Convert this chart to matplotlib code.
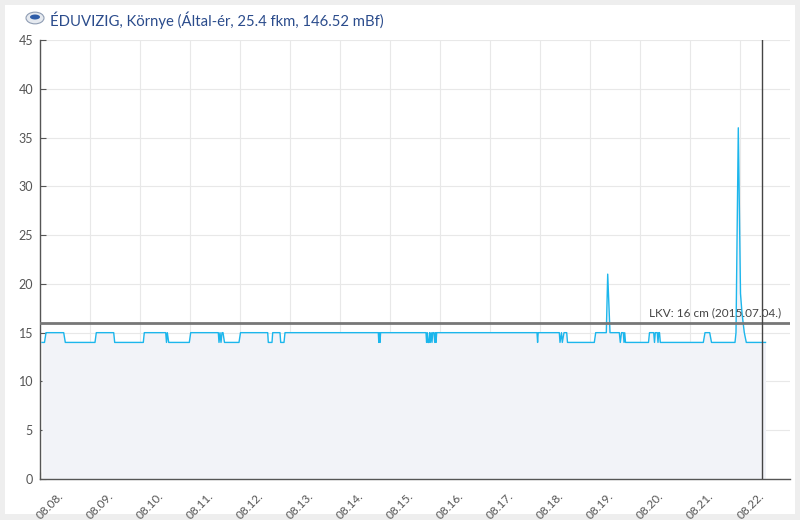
"""ÉDUVIZIG Környe vízállás grafikon — 08.08.–08.22. vízszint (cm) LKV jelöléssel."""
import matplotlib
matplotlib.use("Agg")
import matplotlib.pyplot as plt
import matplotlib.transforms as mtrans
from matplotlib.patches import Circle, Rectangle, Ellipse

plt.rcParams["font.family"] = ["Lato", "DejaVu Sans"]

# idő: nap 08.08. 00:00 óta, vízállás cm
DAYS = [0.04, 0.09, 0.12, 0.474, 0.506, 1.10, 1.126, 1.474, 1.494, 2.066, 2.086,
        2.514, 2.53, 2.546, 2.574, 2.986, 3.014, 3.566, 3.58, 3.60, 3.62, 3.64,
        3.66, 3.69, 3.98, 4.01, 4.554, 4.566, 4.64, 4.654, 4.80, 4.814, 4.88,
        4.90, 6.766, 6.776, 6.788, 6.80, 6.812, 7.72, 7.732, 7.746, 7.76, 7.78,
        7.792, 7.806, 7.824, 7.84, 7.854, 7.88, 7.894, 7.91, 7.92, 7.934, 9.94,
        9.952, 9.964, 10.386, 10.40, 10.43, 10.446, 10.48, 10.534, 10.55, 11.086,
        11.114, 11.326, 11.354, 11.40, 11.586, 11.606, 11.63, 11.666, 11.68,
        11.694, 11.71, 12.17, 12.19, 12.274, 12.29, 12.306, 12.346, 12.36,
        12.374, 12.39, 12.406, 13.266, 13.30, 13.394, 13.43, 13.90, 13.92,
        13.966, 14.01, 14.04, 14.086, 14.126, 14.51]
LEVEL = [14, 14, 15, 15, 14, 14, 15, 15, 14, 14, 15,
         15, 14, 15, 14, 14, 15, 15, 14, 15, 14, 15,
         15, 14, 14, 15, 15, 14, 14, 15, 15, 14, 14,
         15, 15, 14, 15, 14, 15, 15, 14, 15, 14, 14,
         15, 14, 15, 14, 15, 15, 14, 15, 14, 15, 15,
         14, 15, 15, 14, 15, 14, 15, 15, 14, 14,
         15, 15, 21, 15, 15, 14, 15, 15, 14,
         15, 14, 14, 15, 15, 14, 15, 15, 14,
         15, 15, 14, 14, 15, 15, 14, 14, 15,
         36, 19, 17, 15, 14, 14]

DAY_LABELS = ["08.08.", "08.09.", "08.10.", "08.11.", "08.12.", "08.13.", "08.14.",
              "08.15.", "08.16.", "08.17.", "08.18.", "08.19.", "08.20.", "08.21.",
              "08.22."]
Y_TICKS = [0, 5, 10, 15, 20, 25, 30, 35, 40, 45]
LKV = 16
LKV_LABEL = "LKV: 16 cm (2015.07.04.)"
NOW = 14.44
TITLE = "ÉDUVIZIG, Környe (Által-ér, 25.4 fkm, 146.52 mBf)"

LINE = "#1cb6ec"
FILL = "#f2f3f8"
GRID = "#e8e8e8"
AXIS = "#555555"

fig = plt.figure(figsize=(8, 5.2), dpi=100)
fig.patch.set_facecolor("#eeeeee")
panel = Rectangle((5 / 800, 6 / 520), 790 / 800, 509 / 520,
                  transform=fig.transFigure, facecolor="white",
                  edgecolor="none", zorder=-10)
fig.patches.append(panel)

ax = fig.add_axes([40 / 800, 41 / 520, 750 / 800, 439 / 520])
ax.set_facecolor("none")

ax.fill_between(DAYS, 0, LEVEL, color=FILL, linewidth=0, zorder=1)
ax.plot(DAYS, LEVEL, color=LINE, linewidth=1.0, zorder=3)
ax.axhline(LKV, color="#777777", linewidth=2.0, zorder=4)
ax.text(14.82, LKV + 0.45, LKV_LABEL, ha="right", va="bottom", fontsize=8.5,
        color="#444444", zorder=5)
ax.axvline(NOW, color="#444444", linewidth=1.0, zorder=5)

ax.set_xlim(0, 15)
ax.set_ylim(0, 45)
ax.set_xticks(range(len(DAY_LABELS)))
ax.set_xticklabels([])
# dátum címkék: 45°-ban, a tick jobb oldalára tolva (mint az eredetin)
lab_tr = mtrans.offset_copy(ax.get_xaxis_transform(), fig=fig, x=18, y=-11, units="dots")
for i, lab in enumerate(DAY_LABELS):
    ax.text(i, 0, lab, transform=lab_tr, rotation=45, ha="right", va="top",
            rotation_mode="anchor", fontsize=8.5, color="#555555", clip_on=False)
ax.set_yticks(Y_TICKS)
ax.grid(color=GRID, linewidth=0.8, zorder=0)
ax.set_axisbelow(True)
for s in ("top", "right"):
    ax.spines[s].set_visible(False)
for s in ("left", "bottom"):
    ax.spines[s].set_color(AXIS)
    ax.spines[s].set_linewidth(1.0)
ax.tick_params(axis="x", direction="in", length=5, color=AXIS)
ax.tick_params(axis="y", direction="in", length=4, color=AXIS, labelsize=9,
               labelcolor="#555555", pad=5)

# fejléc: logó + cím
fig.patches.append(Circle((35 / 800, 1 - 18 / 520), 9 / 800, transform=fig.transFigure,
                          facecolor="#e6eaf0", edgecolor="#8f9db3", linewidth=0.8))
fig.patches.append(Ellipse((35 / 800, 1 - 17 / 520), 10 / 800, 5 / 520,
                           transform=fig.transFigure, facecolor="#2f5da8",
                           edgecolor="none"))
fig.text(50 / 800, 1 - 20 / 520, TITLE, ha="left", va="center", fontsize=10.7,
         color="#2b4c8c")

fig.savefig("out.png", dpi=100, facecolor=fig.get_facecolor())
